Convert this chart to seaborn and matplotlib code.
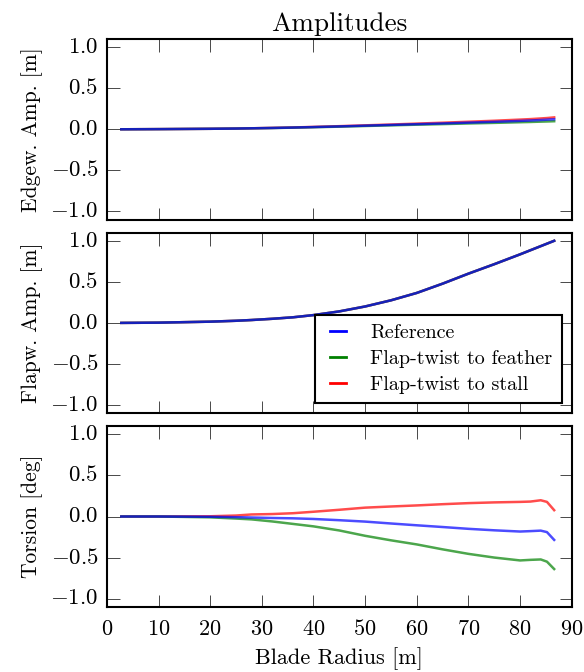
import numpy as np
import pandas as pd
import matplotlib
matplotlib.use("Agg")
import matplotlib.pyplot as plt
import seaborn as sns

# Blade radius stations [m]
radius = [2.8, 10, 20, 25, 28, 32, 36, 40, 45, 50, 55, 60, 65, 70, 75, 80, 82, 84, 85.2, 86.6]

cases = ["Reference", "Flap-twist to feather", "Flap-twist to stall"]

# Edgewise amplitude [m]
edge_ref = [0, 0.002, 0.006, 0.009, 0.012, 0.016, 0.021, 0.027, 0.035, 0.044, 0.053, 0.062,
            0.071, 0.081, 0.091, 0.102, 0.107, 0.113, 0.117, 0.122]
edge_feather = [0, 0.002, 0.006, 0.009, 0.012, 0.015, 0.020, 0.025, 0.032, 0.040, 0.048, 0.056,
                0.063, 0.071, 0.078, 0.086, 0.089, 0.093, 0.095, 0.098]
edge_stall = [0, 0.002, 0.006, 0.009, 0.012, 0.017, 0.022, 0.029, 0.038, 0.048, 0.058, 0.069,
              0.080, 0.092, 0.104, 0.118, 0.124, 0.132, 0.137, 0.145]

# Flapwise amplitude [m]
flap_ref = [0, 0.003, 0.015, 0.026, 0.035, 0.050, 0.068, 0.095, 0.140, 0.200, 0.275, 0.365,
            0.478, 0.600, 0.715, 0.835, 0.885, 0.935, 0.965, 1.000]
flap_feather = [0, 0.003, 0.015, 0.026, 0.035, 0.050, 0.068, 0.095, 0.140, 0.200, 0.275, 0.365,
                0.478, 0.600, 0.715, 0.835, 0.885, 0.935, 0.965, 1.000]
flap_stall = [0, 0.003, 0.015, 0.026, 0.035, 0.050, 0.068, 0.095, 0.140, 0.200, 0.275, 0.365,
              0.478, 0.600, 0.715, 0.835, 0.885, 0.935, 0.965, 1.000]

# Torsion [deg]
tors_ref = [0, 0, -0.003, -0.008, -0.012, -0.018, -0.022, -0.030, -0.045, -0.062, -0.085, -0.107,
            -0.128, -0.150, -0.168, -0.183, -0.178, -0.172, -0.190, -0.285]
tors_feather = [0, 0, -0.010, -0.025, -0.035, -0.060, -0.090, -0.120, -0.170, -0.235, -0.290, -0.340,
                -0.400, -0.455, -0.500, -0.535, -0.528, -0.523, -0.550, -0.640]
tors_stall = [0, 0, 0.003, 0.012, 0.025, 0.030, 0.040, 0.058, 0.082, 0.108, 0.122, 0.135,
              0.150, 0.163, 0.172, 0.178, 0.182, 0.198, 0.178, 0.077]

ylabels = ["Edgew. Amp. [m]", "Flapw. Amp. [m]", "Torsion [deg]"]

# long-form table
rows = []
for case, e, f, t in zip(cases, [edge_ref, edge_feather, edge_stall],
                         [flap_ref, flap_feather, flap_stall],
                         [tors_ref, tors_feather, tors_stall]):
    for i, r in enumerate(radius):
        rows.append({"r": r, "case": case, "edge": e[i], "flap": f[i], "tors": t[i]})
df = pd.DataFrame(rows)

plt.style.use("classic")
plt.rcParams.update({
    "font.family": "serif",
    "font.serif": ["cmr10"],
    "mathtext.fontset": "cm",
    "axes.formatter.use_mathtext": True,
    "font.size": 15,
    "xtick.labelsize": 16,
    "ytick.labelsize": 16.5,
    "figure.facecolor": "white",
    "savefig.facecolor": "white",
    "axes.linewidth": 1.5,
    "xtick.major.size": 9,
    "ytick.major.size": 9,
    "xtick.major.pad": 9,
    "ytick.major.pad": 6,
})

palette = {"Reference": "b", "Flap-twist to feather": "g", "Flap-twist to stall": "r"}

fig, axes = plt.subplots(3, 1, figsize=(5.84, 6.72), dpi=100, sharex=True)
fig.subplots_adjust(left=0.183, right=0.979, top=0.942, bottom=0.097, hspace=0.072)

for ax, col, lab in zip(axes, ["edge", "flap", "tors"], ylabels):
    sns.lineplot(data=df, x="r", y=col, hue="case", hue_order=cases, palette=palette,
                 alpha=0.7, lw=1.8, ax=ax, legend=(col == "flap"), estimator=None, sort=False)
    # stall drawn first, then feather, reference on top
    ax.lines[0].set_zorder(3)
    ax.lines[1].set_zorder(2.5)
    ax.set_ylim(-1.1, 1.1)
    ax.set_yticks([-1.0, -0.5, 0.0, 0.5, 1.0])
    ax.set_ylabel(lab, fontsize=15.5)
    ax.set_xlabel("")

axes[0].set_xlim(0, 90)
axes[0].set_title("Amplitudes", fontsize=19.5, pad=6)
axes[2].set_xlabel("Blade Radius [m]", fontsize=16, labelpad=6)

handles, labels = axes[1].get_legend_handles_labels()
for h in handles:
    h.set_alpha(1)
    h.set_linewidth(2)
leg = axes[1].legend(handles, labels, loc="lower right", fontsize=14.5, fancybox=False,
                     borderaxespad=0.5, handlelength=1.4, handletextpad=0.9,
                     labelspacing=0.4, borderpad=0.45)
leg.get_frame().set_edgecolor("black")
leg.get_frame().set_linewidth(1.5)

fig.savefig("out.png", dpi=100)
